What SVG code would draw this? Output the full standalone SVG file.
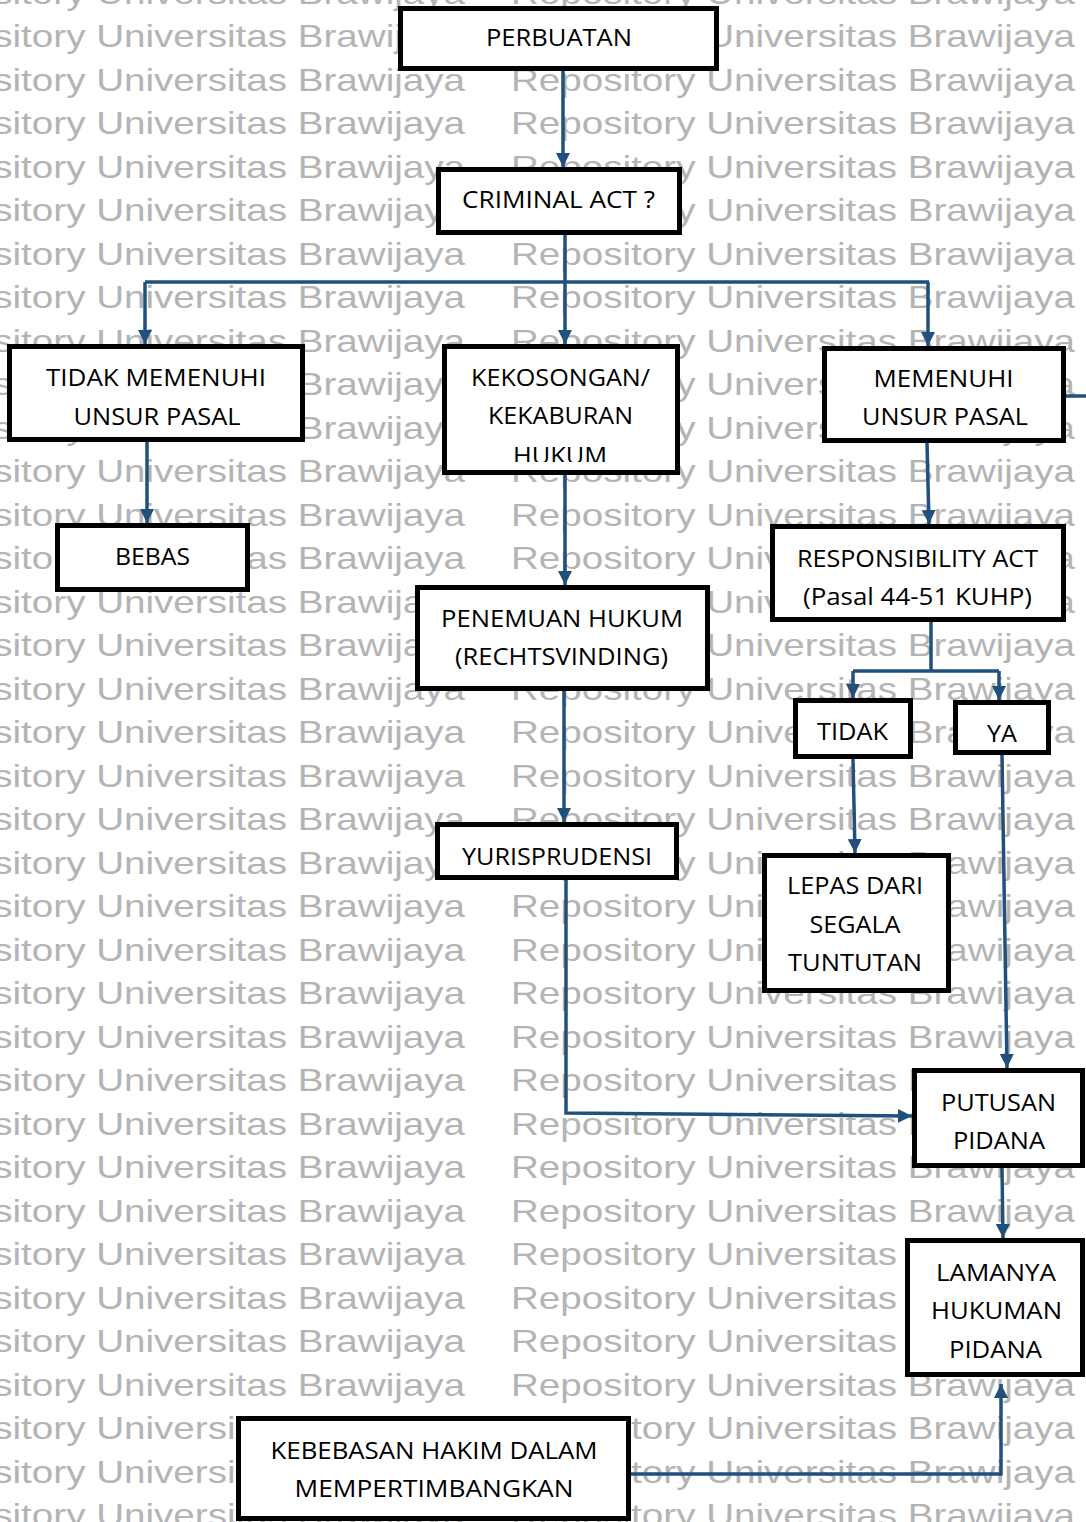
<svg xmlns="http://www.w3.org/2000/svg" xmlns:xlink="http://www.w3.org/1999/xlink" width="1086" height="1522" viewBox="0 0 1086 1522">
<style>
.wm{font-family:"Liberation Sans",Arial,sans-serif;font-size:32px;fill:#b4b4b4}
.box{fill:#ffffff;stroke:#000000;stroke-width:5}
.lbl{font-family:"Open Sans","Noto Sans",sans-serif;font-size:24px;fill:#000000;text-anchor:middle}
.con{fill:none;stroke:#22507d;stroke-width:3.5}
</style>
<defs>
<marker id="ah" viewBox="0 0 10 10" refX="10" refY="5" markerWidth="14" markerHeight="15" markerUnits="userSpaceOnUse" orient="auto">
<path d="M0,0 L10,5 L0,10 z" fill="#22507d"/>
</marker>
<g id="wmrow">
<text class="wm" x="-99" y="0" textLength="564" lengthAdjust="spacingAndGlyphs">Repository Universitas Brawijaya</text>
<text class="wm" x="511" y="0" textLength="564" lengthAdjust="spacingAndGlyphs">Repository Universitas Brawijaya</text>
</g>
<clipPath id="clipKek"><rect x="444" y="346" width="234" height="116"/></clipPath>
</defs>
<rect x="0" y="0" width="1086" height="1522" fill="#ffffff"/>
<g id="watermark">
<use xlink:href="#wmrow" y="3.5"/><use xlink:href="#wmrow" y="47"/><use xlink:href="#wmrow" y="90.5"/><use xlink:href="#wmrow" y="134"/>
<use xlink:href="#wmrow" y="177.5"/><use xlink:href="#wmrow" y="221"/><use xlink:href="#wmrow" y="264.5"/><use xlink:href="#wmrow" y="308"/>
<use xlink:href="#wmrow" y="351.5"/><use xlink:href="#wmrow" y="395"/><use xlink:href="#wmrow" y="438.5"/><use xlink:href="#wmrow" y="482"/>
<use xlink:href="#wmrow" y="525.5"/><use xlink:href="#wmrow" y="569"/><use xlink:href="#wmrow" y="612.5"/><use xlink:href="#wmrow" y="656"/>
<use xlink:href="#wmrow" y="699.5"/><use xlink:href="#wmrow" y="743"/><use xlink:href="#wmrow" y="786.5"/><use xlink:href="#wmrow" y="830"/>
<use xlink:href="#wmrow" y="873.5"/><use xlink:href="#wmrow" y="917"/><use xlink:href="#wmrow" y="960.5"/><use xlink:href="#wmrow" y="1004"/>
<use xlink:href="#wmrow" y="1047.5"/><use xlink:href="#wmrow" y="1091"/><use xlink:href="#wmrow" y="1134.5"/><use xlink:href="#wmrow" y="1178"/>
<use xlink:href="#wmrow" y="1221.5"/><use xlink:href="#wmrow" y="1265"/><use xlink:href="#wmrow" y="1308.5"/><use xlink:href="#wmrow" y="1352"/>
<use xlink:href="#wmrow" y="1395.5"/><use xlink:href="#wmrow" y="1439"/><use xlink:href="#wmrow" y="1482.5"/><use xlink:href="#wmrow" y="1526"/>
</g>
<g id="n-perbuatan"><rect class="box" x="400.5" y="8.5" width="316" height="60"/><text class="lbl" x="559" y="46" textLength="146" lengthAdjust="spacingAndGlyphs">PERBUATAN</text></g>
<g id="n-criminal"><rect class="box" x="438.5" y="169.5" width="241" height="63"/><text class="lbl" x="558.5" y="208" textLength="193" lengthAdjust="spacingAndGlyphs">CRIMINAL ACT ?</text></g>
<g id="n-tidakmemenuhi"><rect class="box" x="9.5" y="346.5" width="293" height="93"/><text class="lbl" x="156" y="386" textLength="220" lengthAdjust="spacingAndGlyphs">TIDAK MEMENUHI</text><text class="lbl" x="157" y="425" textLength="167" lengthAdjust="spacingAndGlyphs">UNSUR PASAL</text></g>
<g id="n-kekosongan"><rect class="box" x="444.5" y="346.5" width="233" height="126"/><g clip-path="url(#clipKek)"><text class="lbl" x="560.5" y="386" textLength="179" lengthAdjust="spacingAndGlyphs">KEKOSONGAN/</text><text class="lbl" x="560.5" y="424" textLength="145" lengthAdjust="spacingAndGlyphs">KEKABURAN</text><text class="lbl" x="560" y="464" textLength="94" lengthAdjust="spacingAndGlyphs">HUKUM</text></g></g>
<g id="n-memenuhi"><rect class="box" x="824.5" y="348.5" width="239" height="92"/><text class="lbl" x="943.5" y="387" textLength="140" lengthAdjust="spacingAndGlyphs">MEMENUHI</text><text class="lbl" x="945" y="425" textLength="166" lengthAdjust="spacingAndGlyphs">UNSUR PASAL</text></g>
<g id="n-bebas"><rect class="box" x="57.5" y="525.5" width="190" height="64"/><text class="lbl" x="152.5" y="565" textLength="75" lengthAdjust="spacingAndGlyphs">BEBAS</text></g>
<g id="n-penemuan"><rect class="box" x="417.5" y="587.5" width="290" height="101"/><text class="lbl" x="562" y="627" textLength="242" lengthAdjust="spacingAndGlyphs">PENEMUAN HUKUM</text><text class="lbl" x="561.5" y="665" textLength="213" lengthAdjust="spacingAndGlyphs">(RECHTSVINDING)</text></g>
<g id="n-responsibility"><rect class="box" x="772.5" y="526.5" width="291" height="93"/><text class="lbl" x="917.5" y="567" textLength="241" lengthAdjust="spacingAndGlyphs">RESPONSIBILITY ACT</text><text class="lbl" x="917.5" y="605" textLength="229" lengthAdjust="spacingAndGlyphs">(Pasal 44-51 KUHP)</text></g>
<g id="n-tidak"><rect class="box" x="795.5" y="700.5" width="115" height="56"/><text class="lbl" x="852.5" y="740" textLength="71" lengthAdjust="spacingAndGlyphs">TIDAK</text></g>
<g id="n-ya"><rect class="box" x="955.5" y="702.5" width="93" height="50"/><text class="lbl" x="1002" y="742" textLength="30" lengthAdjust="spacingAndGlyphs">YA</text></g>
<g id="n-lepas"><rect class="box" x="764.5" y="855.5" width="184" height="135"/><text class="lbl" x="855" y="894" textLength="136" lengthAdjust="spacingAndGlyphs">LEPAS DARI</text><text class="lbl" x="855" y="933" textLength="91" lengthAdjust="spacingAndGlyphs">SEGALA</text><text class="lbl" x="855" y="971" textLength="134" lengthAdjust="spacingAndGlyphs">TUNTUTAN</text></g>
<g id="n-yurisprudensi"><rect class="box" x="437.5" y="824.5" width="239" height="53"/><text class="lbl" x="557" y="865" textLength="190" lengthAdjust="spacingAndGlyphs">YURISPRUDENSI</text></g>
<g id="n-putusan"><rect class="box" x="914.5" y="1070.5" width="168" height="95"/><text class="lbl" x="998.5" y="1111" textLength="115" lengthAdjust="spacingAndGlyphs">PUTUSAN</text><text class="lbl" x="999" y="1149" textLength="92" lengthAdjust="spacingAndGlyphs">PIDANA</text></g>
<g id="n-lamanya"><rect class="box" x="907.5" y="1240.5" width="175" height="134"/><text class="lbl" x="996" y="1281" textLength="120" lengthAdjust="spacingAndGlyphs">LAMANYA</text><text class="lbl" x="996.5" y="1319" textLength="131" lengthAdjust="spacingAndGlyphs">HUKUMAN</text><text class="lbl" x="995.5" y="1358" textLength="93" lengthAdjust="spacingAndGlyphs">PIDANA</text></g>
<g id="n-kebebasan"><rect class="box" x="238.5" y="1418.5" width="390" height="100"/><text class="lbl" x="434" y="1459" textLength="327" lengthAdjust="spacingAndGlyphs">KEBEBASAN HAKIM DALAM</text><text class="lbl" x="434" y="1497" textLength="279" lengthAdjust="spacingAndGlyphs">MEMPERTIMBANGKAN</text></g>
<g id="connectors">
<path class="con" d="M563,71 L563,167" marker-end="url(#ah)"/>
<path class="con" d="M565,235 L565,282"/>
<path class="con" d="M145,282 L929,282"/>
<path class="con" d="M145,282 L145,344" marker-end="url(#ah)"/>
<path class="con" d="M565,282 L565,344" marker-end="url(#ah)"/>
<path class="con" d="M928,282 L928,346" marker-end="url(#ah)"/>
<path class="con" d="M147,442 L147,523" marker-end="url(#ah)"/>
<path class="con" d="M565,475 L565,585" marker-end="url(#ah)"/>
<path class="con" d="M927,443 L929,524" marker-end="url(#ah)"/>
<path class="con" d="M1066,396 L1086,396"/>
<path class="con" d="M931,622 L931,671"/>
<path class="con" d="M853,671 L999,671"/>
<path class="con" d="M853,671 L853,698" marker-end="url(#ah)"/>
<path class="con" d="M999,671 L999,700" marker-end="url(#ah)"/>
<path class="con" d="M853,759 L855,853" marker-end="url(#ah)"/>
<path class="con" d="M1002,755 L1007,1068" marker-end="url(#ah)"/>
<path class="con" d="M564,691 L564,822" marker-end="url(#ah)"/>
<path class="con" d="M566,880 L566,1113 L912,1116" marker-end="url(#ah)"/>
<path class="con" d="M1002,1168 L1003,1238" marker-end="url(#ah)"/>
<path class="con" d="M631,1474 L1001,1474 L1001,1384" marker-end="url(#ah)"/>
</g>
</svg>
